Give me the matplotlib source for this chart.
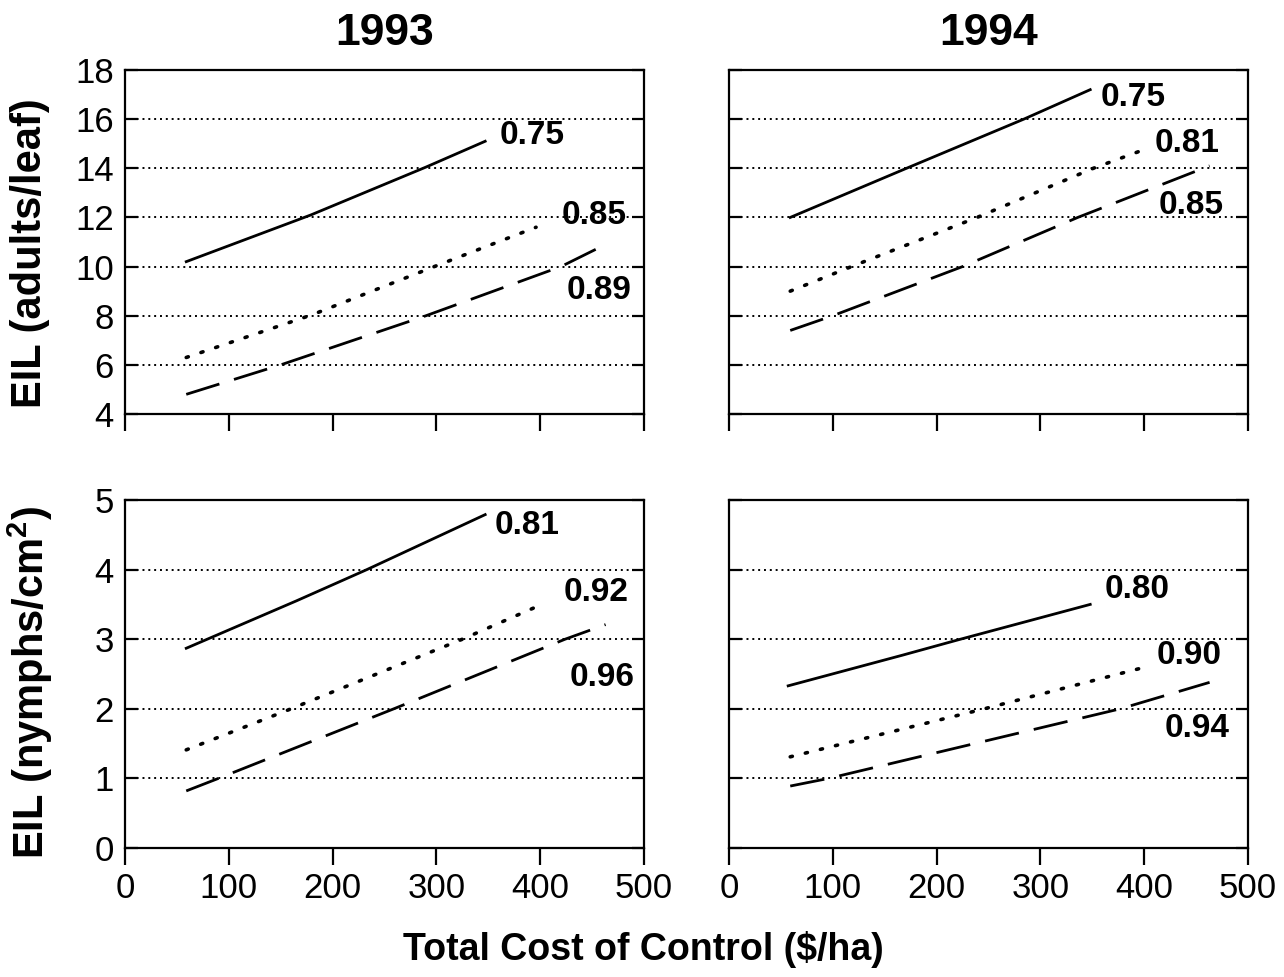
import matplotlib
matplotlib.use("Agg")
import matplotlib.pyplot as plt
from matplotlib.ticker import MultipleLocator

plt.rcParams['font.family'] = ['Liberation Sans', 'DejaVu Sans']

years = ["1993", "1994"]
ylabels = ["EIL (adults/leaf)", "EIL (nymphs/cm$^\\mathregular{2}$)"]
xlabel = "Total Cost of Control ($/ha)"

# each panel: list of (x, y, style, label, label_x, label_y)
adults_1993 = [
    ([59, 179, 290, 347], [10.2, 12.1, 14.05, 15.1], "solid", "0.75", 392, 15.35),
    ([59, 181, 298, 396], [6.3, 8.05, 10.0, 11.6], "dotted", "0.85", 452, 12.06),
    ([59, 150, 290, 420, 463], [4.8, 6.0, 8.0, 10.0, 10.9], "dashed", "0.89", 457, 9.03),
]
adults_1994 = [
    ([59, 171, 284, 348], [12.0, 14.0, 16.0, 17.2], "solid", "0.75", 389, 16.9),
    ([59, 118, 239, 351, 396], [9.0, 10.0, 12.0, 14.0, 14.7], "dotted", "0.81", 441, 15.0),
    ([59, 100, 225, 336, 463], [7.4, 8.0, 10.0, 12.0, 14.1], "dashed", "0.85", 445, 12.48),
]
nymphs_1993 = [
    ([59, 165, 233, 347], [2.87, 3.55, 4.0, 4.79], "solid", "0.81", 387, 4.64),
    ([59, 160, 325, 397], [1.41, 2.0, 3.0, 3.47], "dotted", "0.92", 454, 3.67),
    ([59, 90, 259, 424, 463], [0.82, 1.0, 2.0, 3.0, 3.21], "dashed", "0.96", 460, 2.45),
]
nymphs_1994 = [
    ([57, 167, 223, 348], [2.33, 2.77, 3.0, 3.5], "solid", "0.80", 393, 3.72),
    ([59, 246, 396], [1.31, 2.0, 2.58], "dotted", "0.90", 443, 2.77),
    ([59, 96, 377, 463], [0.89, 1.0, 2.0, 2.38], "dashed", "0.94", 451, 1.71),
]

W, H = 1284, 977
fig = plt.figure(figsize=(W / 100, H / 100), dpi=100)


def frac(x0, x1, y0, y1):
    return [x0 / W, 1 - y1 / H, (x1 - x0) / W, (y1 - y0) / H]


boxes = [
    frac(125, 644, 70, 414),
    frac(729, 1248, 70, 414),
    frac(125, 644, 500, 848),
    frac(729, 1248, 500, 848),
]
panels = [adults_1993, adults_1994, nymphs_1993, nymphs_1994]

styles = {
    "solid": dict(linestyle="-", linewidth=2.0),
    "dotted": dict(linestyle=(0, (0.6, 3.7)), linewidth=2.6, dash_capstyle="round"),
    "dashed": dict(linestyle=(0, (12.5, 5.5)), linewidth=2.0),
}

for i, (box, data) in enumerate(zip(boxes, panels)):
    ax = fig.add_axes(box)
    top = i < 2
    left = i % 2 == 0
    ax.set_xlim(0, 500)
    if top:
        ax.set_ylim(4, 18)
        ax.yaxis.set_major_locator(MultipleLocator(2))
        gridvals = [6, 8, 10, 12, 14, 16]
    else:
        ax.set_ylim(0, 5)
        ax.yaxis.set_major_locator(MultipleLocator(1))
        gridvals = [1, 2, 3, 4]
    ax.xaxis.set_major_locator(MultipleLocator(100))
    for g in gridvals:
        ax.axhline(g, color="black", linewidth=1.4, linestyle=(0, (1, 2.0)), zorder=1)
    for xs, ys, st, lab, lx, ly in data:
        ax.plot(xs, ys, color="black", zorder=3, **styles[st])
        ax.text(lx, ly, lab, fontsize=24, fontweight="bold", ha="center", va="center",
                zorder=4)
    for s in ax.spines.values():
        s.set_linewidth(1.6)
    ax.tick_params(axis="x", direction="out", length=12, width=1.6, labelsize=25, pad=5,
                   labelbottom=not top)
    ax.tick_params(axis="y", direction="in", length=9, width=1.6, labelsize=25, pad=8,
                   left=True, right=True, labelleft=left)
    if top:
        ax.set_title(years[i], fontsize=32, fontweight="bold", pad=18)

fig.text(30 / W, 1 - 253 / H, ylabels[0], fontsize=30, fontweight="bold",
         rotation=90, ha="center", va="center")
fig.text(30 / W, 1 - 682 / H, ylabels[1], fontsize=30, fontweight="bold",
         rotation=90, ha="center", va="center")
fig.text(643 / W, 1 - 950 / H, xlabel, fontsize=27, fontweight="bold", ha="center", va="center")

fig.savefig("out.png", dpi=100)
